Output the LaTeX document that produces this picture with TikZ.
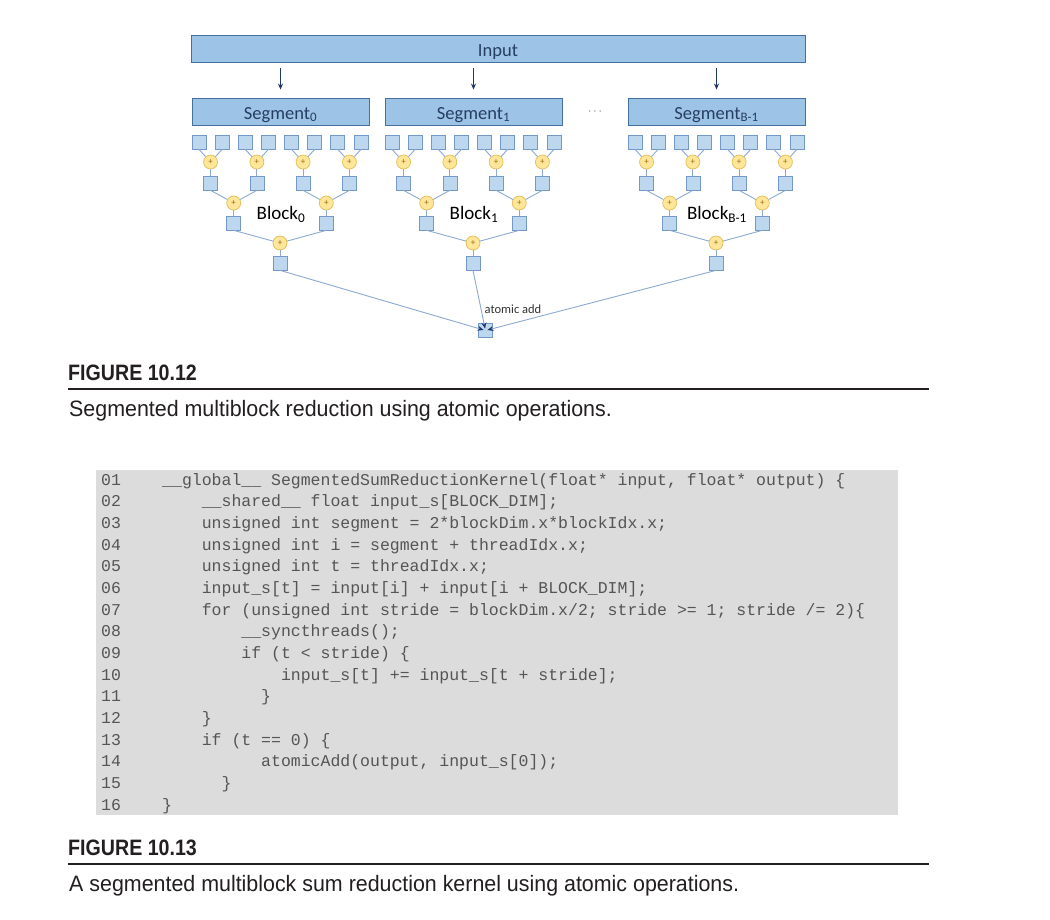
\documentclass[tikz,border=0pt]{standalone}
\usepackage{fontspec}
\setmainfont{Carlito}
\newfontfamily\codefont{Liberation Mono}
\newfontfamily\capfont[FakeStretch=0.96]{Liberation Sans}
\newfontfamily\capheadfont[FakeStretch=0.88]{Liberation Sans}
\usetikzlibrary{positioning,arrows.meta,calc}
\definecolor{BarBlue}{RGB}{157,195,230}
\definecolor{BarEdge}{RGB}{65,113,156}
\definecolor{BarInk}{RGB}{38,62,98}
\definecolor{CellBlue}{RGB}{189,215,238}
\definecolor{CellEdge}{RGB}{116,153,199}
\definecolor{AddYellow}{RGB}{255,230,153}
\definecolor{AddEdge}{RGB}{226,188,86}
\definecolor{AddInk}{RGB}{150,105,20}
\definecolor{WireBlue}{RGB}{140,170,208}
\definecolor{TipNavy}{RGB}{31,56,100}
\definecolor{CodeGray}{RGB}{220,220,221}
\definecolor{CodeInk}{RGB}{85,85,85}
\definecolor{CapInk}{RGB}{35,31,32}

\tikzset{
  bar/.style={draw=BarEdge, fill=BarBlue, line width=0.9pt, inner sep=0pt,
    minimum height=27pt, text height=15pt, text depth=0pt, text=BarInk,
    font=\fontsize{18.5}{18.5}\selectfont},
  cell/.style={draw=CellEdge, fill=CellBlue, line width=0.7pt, minimum size=14pt, inner sep=0pt},
  adder/.style={circle, draw=AddEdge, fill=AddYellow, line width=0.7pt, minimum size=14pt,
    inner sep=0pt, text=AddInk, font=\fontsize{9}{9}\selectfont},
  wire/.style={draw=WireBlue, line width=0.9pt},
  feed/.style={draw=TipNavy, line width=1.1pt, -{Stealth[length=6pt,width=5pt]}},
  codeline/.style={anchor=base west, inner sep=0pt, text=CodeInk,
    font=\codefont\fontsize{16.5}{16.5}\selectfont},
  caphead/.style={anchor=base west, inner sep=0pt, text=CapInk,
    font=\capheadfont\bfseries\fontsize{22.3}{22.3}\selectfont},
  captext/.style={anchor=base west, inner sep=0pt, text=CapInk,
    font=\capfont\fontsize{22.3}{22.3}\selectfont}
}

\begin{document}
\begin{tikzpicture}[x=1pt, y=-1pt]
  \useasboundingbox[fill=white] (0,0) rectangle (1050,919);

  % input and segments
  \node[bar, minimum width=614pt] (in) at (498,48.5) {Input};
  \node[text=black!60, font=\fontsize{13}{13}\selectfont] (gap) at (595,112) {$\cdots$};

  \foreach \s/\ox/\sub in {0/0/0, 1/193/1, 2/436/B-1}{
    \node[bar, minimum width=177pt] (seg\s) at ({280.5+\ox},111.5) {Segment\textsubscript{\sub}};
    \draw[feed, shorten <=6pt, shorten >=8pt] (in.south -| seg\s.north) -- (seg\s.north);

    % leaves
    \foreach \k in {0,...,7}
      \node[cell] (s\s-l\k) at ({199+\ox+23.14*\k},142) {};

    % first level
    \foreach \k in {0,...,3}{
      \pgfmathtruncatemacro\ka{2*\k}
      \pgfmathtruncatemacro\kb{2*\k+1}
      \node[adder] (s\s-p\k) at ({210.57+\ox+46.28*\k},162) {+};
      \node[cell] (s\s-c\k) at ({210.57+\ox+46.28*\k},183) {};
      \draw[wire] (s\s-l\ka.south) -- (s\s-p\k);
      \draw[wire] (s\s-l\kb.south) -- (s\s-p\k);
      \draw[wire] (s\s-p\k) -- (s\s-c\k);
    }

    % second level
    \foreach \k in {0,1}{
      \pgfmathtruncatemacro\ka{2*\k}
      \pgfmathtruncatemacro\kb{2*\k+1}
      \node[adder] (s\s-q\k) at ({233.71+\ox+92.56*\k},203) {+};
      \node[cell] (s\s-d\k) at ({233.71+\ox+92.56*\k},223) {};
      \draw[wire] (s\s-c\ka.south) -- (s\s-q\k);
      \draw[wire] (s\s-c\kb.south) -- (s\s-q\k);
      \draw[wire] (s\s-q\k) -- (s\s-d\k);
    }

    % block root
    \node[adder] (s\s-r) at ({280+\ox},243) {+};
    \node[cell] (s\s-e) at ({280+\ox},263) {};
    \draw[wire] (s\s-d0.south) -- (s\s-r);
    \draw[wire] (s\s-d1.south) -- (s\s-r);
    \draw[wire] (s\s-r) -- (s\s-e);
    \node[font=\fontsize{19}{19}\selectfont] (blk\s) at ({281+\ox},214.5) {Block\textsubscript{\sub}};
  }

  % atomic add
  \node[cell] (out) at (485.5,330.5) {};
  \foreach \s in {0,1,2}
    \draw[wire, shorten >=2pt, -{Stealth[length=6pt,width=5pt,color=TipNavy]}] (s\s-e.south) -- (out.center);
  \node[text=black!80, font=\fontsize{12.5}{12.5}\selectfont] (lbl) at (513,309) {atomic add};

  % caption 10.12
  \node[caphead] (fig1) at (68,380) {FIGURE 10.12};
  \draw[CapInk, line width=1.3pt] (68,389) -- (929,389);
  \node[captext] (cap1) at (69,416) {Segmented multiblock reduction using atomic operations.};

  % code listing
  \fill[CodeGray] (96,470) rectangle (898,815);
  \foreach \n [count=\i from 0] in {01,02,03,04,05,06,07,08,09,10,11,12,13,14,15,16}
    \node[codeline] (n\n) at (101,{485+21.67*\i}) {\n};
  \node[codeline] (c01) at (162,485) {\_\_global\_\_ SegmentedSumReductionKernel(float* input, float* output) \{};
  \node[codeline] (c02) at (201.6,506.67) {\_\_shared\_\_ float input\_s[BLOCK\_DIM];};
  \node[codeline] (c03) at (201.6,528.34) {unsigned int segment = 2*blockDim.x*blockIdx.x;};
  \node[codeline] (c04) at (201.6,550.01) {unsigned int i = segment + threadIdx.x;};
  \node[codeline] (c05) at (201.6,571.68) {unsigned int t = threadIdx.x;};
  \node[codeline] (c06) at (201.6,593.35) {input\_s[t] = input[i] + input[i + BLOCK\_DIM];};
  \node[codeline] (c07) at (201.6,615.02) {for (unsigned int stride = blockDim.x/2; stride >= 1; stride /= 2)\{};
  \node[codeline] (c08) at (241.2,636.69) {\_\_syncthreads();};
  \node[codeline] (c09) at (241.2,658.36) {if (t < stride) \{};
  \node[codeline] (c10) at (280.8,680.03) {input\_s[t] += input\_s[t + stride];};
  \node[codeline] (c11) at (261,701.7) {\}};
  \node[codeline] (c12) at (201.6,723.37) {\}};
  \node[codeline] (c13) at (201.6,745.04) {if (t == 0) \{};
  \node[codeline] (c14) at (261,766.71) {atomicAdd(output, input\_s[0]);};
  \node[codeline] (c15) at (221.4,788.38) {\}};
  \node[codeline] (c16) at (162,810.05) {\}};

  % caption 10.13
  \node[caphead] (fig2) at (68,855) {FIGURE 10.13};
  \draw[CapInk, line width=1.3pt] (68,864) -- (929,864);
  \node[captext] (cap2) at (69,891) {A segmented multiblock sum reduction kernel using atomic operations.};
\end{tikzpicture}
\end{document}
